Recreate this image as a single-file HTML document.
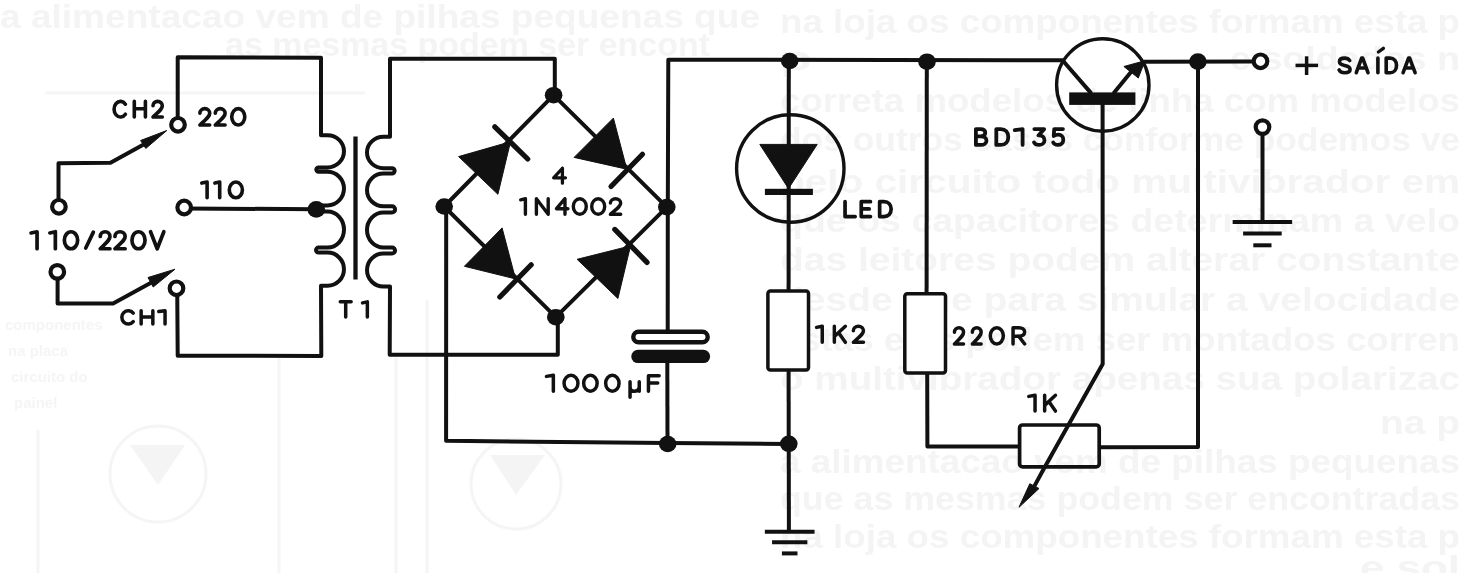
<!DOCTYPE html>
<html><head><meta charset="utf-8"><style>
html,body{margin:0;padding:0;background:#fff;overflow:hidden;}
svg{display:block;filter:blur(0.4px);}
</style></head><body>
<svg width="1460" height="573" viewBox="0 0 1460 573">
<rect width="1460" height="573" fill="#fff"/>
<g fill="#f4f4f4" font-family="Liberation Sans, sans-serif" font-weight="bold" font-size="34">
<text x="0" y="28" textLength="760" lengthAdjust="spacingAndGlyphs">a alimentacao vem de pilhas pequenas que</text>
<text x="225" y="56" textLength="485" lengthAdjust="spacingAndGlyphs">as mesmas podem ser encont</text>
<text x="780" y="33" textLength="680" lengthAdjust="spacingAndGlyphs">na loja os componentes formam esta p</text>
<text x="1230" y="70" textLength="230" lengthAdjust="spacingAndGlyphs">e soldados n</text>
<text x="780" y="70" textLength="32" lengthAdjust="spacingAndGlyphs">p</text>
<text x="780" y="112" textLength="680" lengthAdjust="spacingAndGlyphs">correta modelos de linha com modelos</text>
<text x="780" y="151" textLength="680" lengthAdjust="spacingAndGlyphs">dos outros casos conforme podemos ve</text>
<text x="780" y="193" textLength="680" lengthAdjust="spacingAndGlyphs">pelo circuito todo multivibrador em</text>
<text x="780" y="232" textLength="680" lengthAdjust="spacingAndGlyphs">que os capacitores determinam a velo</text>
<text x="780" y="271" textLength="680" lengthAdjust="spacingAndGlyphs">das leitores podem alterar constante</text>
<text x="780" y="311" textLength="680" lengthAdjust="spacingAndGlyphs">desde que para simular a velocidade</text>
<text x="780" y="351" textLength="680" lengthAdjust="spacingAndGlyphs">estas eles podem ser montados corren</text>
<text x="780" y="390" textLength="680" lengthAdjust="spacingAndGlyphs">o multivibrador apenas sua polarizac</text>
<text x="1380" y="434" textLength="80" lengthAdjust="spacingAndGlyphs">na p</text>
<text x="780" y="473" textLength="680" lengthAdjust="spacingAndGlyphs">a alimentacao vem de pilhas pequenas</text>
<text x="780" y="510" textLength="680" lengthAdjust="spacingAndGlyphs">que as mesmas podem ser encontradas</text>
<text x="780" y="548" textLength="680" lengthAdjust="spacingAndGlyphs">na loja os componentes formam esta p</text>
<text x="1360" y="579" textLength="100" lengthAdjust="spacingAndGlyphs">e sol</text>
</g>
<g fill="none" stroke="#f5f5f5" stroke-width="3">
<circle cx="158" cy="474" r="48"/><circle cx="516" cy="484" r="45"/>
<path d="M38,430 V573 M279,357 V573 M396,357 V573 M427,300 V573 M45,93 H365"/>
</g>
<g fill="#f4f4f4">
<polygon points="130,445 185,445 158,485"/><polygon points="490,455 545,455 516,495"/>
</g>
<g fill="#f5f5f5" font-family="Liberation Sans, sans-serif" font-weight="bold" font-size="15">
<text x="5" y="330">componentes</text>
<text x="8" y="356">na placa</text>
<text x="11" y="382">circuito do</text>
<text x="14" y="408">painel</text>
</g>
<g fill="none" stroke="#111111" stroke-width="4.0" stroke-linejoin="round" stroke-linecap="butt">
<path d="M58.5,206 L58.5,163.2 L110.5,162.8 L150,141"/>
<polygon fill="#111111" stroke="#111111" stroke-width="1" stroke-linejoin="round" points="166.8,130.5 140.6,140.5 145.8,148.4" />
<path d="M57.6,272 L57.6,303.6 L113.1,303.6 L156,280"/>
<polygon fill="#111111" stroke="#111111" stroke-width="1" stroke-linejoin="round" points="175.0,269.2 148.0,277.5 153.2,287.0" />
<path d="M184.2,208.5 L316.3,209.2"/>
<path d="M177.7,124 L177.7,57.3 L321,57.8 L321,135.2 L327.5,135.2 A16.5,16.10 0 0 1 327.5,167.4 L318.5,167.4 A2.20,2.20 0 0 0 318.5,171.8 L327.5,171.8 A16.5,16.80 0 0 1 327.5,205.4 L318.5,205.4 A3.10,3.10 0 0 0 318.5,211.6 L327.5,211.6 A16.5,18.00 0 0 1 327.5,247.6 L318.5,247.6 A2.50,2.50 0 0 0 318.5,252.6 L327.5,252.6 A16.5,16.60 0 0 1 327.5,285.8 L321,285.8 L321.3,355.9 L177.7,355.8 L177.2,289"/>
<path d="M554.8,95 L554.8,58.8 L390,58.8 L390,136.8 L383.5,136.8 A16.5,15.70 0 0 0 383.5,168.2 L392,168.2 A2.65,2.65 0 0 1 392,173.5 L383.5,173.5 A16.5,16.40 0 0 0 383.5,206.3 L392,206.3 A3.10,3.10 0 0 1 392,212.5 L383.5,212.5 A16.5,17.45 0 0 0 383.5,247.4 L392,247.4 A3.05,3.05 0 0 1 392,253.5 L383.5,253.5 A16.5,16.55 0 0 0 383.5,286.6 L390,286.6 L389.7,354.8 L557.8,354.8 L557.8,317"/>
<line x1="355.5" y1="136.5" x2="355.5" y2="279.6" stroke-width="4.3"/>
<path d="M444.2,206.5 L553.6,95.2 L666.8,207.1 L555.8,317.2 Z"/>
<polygon fill="#111111" stroke="#111111" stroke-width="1" stroke-linejoin="round" points="458.6,156.6 497.9,194.3 510.5,141.7" />
<line x1="494.8" y1="126.8" x2="527.7" y2="159" stroke-width="5.2" stroke-linecap="round"/>
<polygon fill="#111111" stroke="#111111" stroke-width="1" stroke-linejoin="round" points="613.4,118.1 574.1,157.4 626.8,169.2" />
<line x1="642.5" y1="154.3" x2="611" y2="186.5" stroke-width="5.2" stroke-linecap="round"/>
<polygon fill="#111111" stroke="#111111" stroke-width="1" stroke-linejoin="round" points="502.1,227.9 464.4,266.3 515.5,278.9" />
<line x1="531.2" y1="264.8" x2="499.8" y2="297" stroke-width="5.2" stroke-linecap="round"/>
<polygon fill="#111111" stroke="#111111" stroke-width="1" stroke-linejoin="round" points="577.1,259.3 617.9,298.5 630.5,245.9" />
<line x1="614.8" y1="229.4" x2="647" y2="262.4" stroke-width="5.2" stroke-linecap="round"/>
<path d="M446.2,206.5 L446.1,440.8 L667.7,443 L788.9,443.9"/>
<path d="M667.7,330 L667.8,207 L668.3,59.7 L1062.5,60.3 L1091.3,93.4"/>
<path d="M667.3,362 L667.5,444"/>
<rect x="633.3" y="331.8" width="74.4" height="10.5" rx="5.25" fill="#fff" stroke-width="4.4"/>
<rect x="631.3" y="349.7" width="78.8" height="13.4" rx="6.7" fill="#111111" stroke="none"/>
<line x1="788.8" y1="61" x2="788.6" y2="291"/>
<circle cx="790.3" cy="168.5" r="53.7" fill="none" stroke-width="3.4"/>
<polygon fill="#111111" stroke="#111111" stroke-width="1" stroke-linejoin="round" points="759.8,144.4 817.2,144.4 788.5,188.6" />
<rect x="764.9" y="188.8" width="48" height="6.2" fill="#111111" stroke="none"/>
<rect x="767.9" y="291" width="40.6" height="79" rx="2.5" fill="#fff" stroke-width="3.5"/>
<path d="M788.6,370.7 L788.9,531.7"/>
<line x1="764.85" y1="531.7" x2="814.5500000000001" y2="531.7" stroke-width="4.0"/><line x1="772.0500000000001" y1="542.2" x2="807.35" y2="542.2" stroke-width="4.0"/><line x1="781.9000000000001" y1="553.4000000000001" x2="797.5" y2="553.4000000000001" stroke-width="4.0"/>
<path d="M926.8,61 L926.6,293.7"/>
<rect x="904.8" y="293.7" width="40.7" height="79.4" rx="2.5" fill="#fff" stroke-width="3.5"/>
<path d="M927.2,373 L927.4,446.6 L1019.6,446.6"/>
<rect x="1019.6" y="425" width="79.6" height="41.9" rx="3" fill="none" stroke-width="3.7"/>
<path d="M1099.2,447.2 L1198,447 L1198,61.6"/>
<circle cx="1102.8" cy="85" r="46.2" fill="none" stroke-width="3.4"/>
<rect x="1069.2" y="92.4" width="66.2" height="12.5" fill="#111111" stroke="none"/>
<path d="M1113.4,93.4 L1131,72"/>
<polygon fill="#111111" stroke="#111111" stroke-width="1" stroke-linejoin="round" points="1123.9,66.5 1138.3,78.0 1145.0,60.7" />
<path d="M1144,61.7 L1253,61.5"/>
<path d="M1102.6,104 L1102.7,364 L1043.4,469.4 L1034.4,486.1"/>
<polygon fill="#111111" stroke="#111111" stroke-width="1" stroke-linejoin="round" points="1019.0,507.3 1029.8,483.7 1039.0,488.5" />
<circle cx="1260.5" cy="61.3" r="6.8" fill="#fff" stroke-width="4.2"/>
<circle cx="1262.5" cy="127.1" r="6.8" fill="#fff" stroke-width="4.2"/>
<path d="M1262.5,134 L1262.5,222"/>
<line x1="1232.65" y1="222" x2="1292.15" y2="222" stroke-width="4.0"/><line x1="1243.1000000000001" y1="233.5" x2="1281.7" y2="233.5" stroke-width="4.0"/><line x1="1253.3000000000002" y1="245.3" x2="1271.5" y2="245.3" stroke-width="4.0"/>
<circle cx="178" cy="124.8" r="6.8" fill="#fff" stroke-width="4.2"/>
<circle cx="184.2" cy="207.5" r="6.8" fill="#fff" stroke-width="4.2"/>
<circle cx="58.9" cy="206.8" r="6.8" fill="#fff" stroke-width="4.2"/>
<circle cx="57.3" cy="271.9" r="6.8" fill="#fff" stroke-width="4.2"/>
<circle cx="176.5" cy="288.3" r="6.8" fill="#fff" stroke-width="4.2"/>
<ellipse cx="316.3" cy="209.4" rx="8.8" ry="8.3" fill="#111111" stroke="none"/>
<ellipse cx="553.6" cy="95.2" rx="8.8" ry="8.3" fill="#111111" stroke="none"/>
<ellipse cx="444.2" cy="206.5" rx="8.8" ry="8.3" fill="#111111" stroke="none"/>
<ellipse cx="666.8" cy="207.1" rx="8.8" ry="8.3" fill="#111111" stroke="none"/>
<ellipse cx="555.8" cy="317.2" rx="8.8" ry="8.3" fill="#111111" stroke="none"/>
<ellipse cx="667.7" cy="444" rx="8.8" ry="8.3" fill="#111111" stroke="none"/>
<ellipse cx="788.8" cy="443.8" rx="8.8" ry="8.3" fill="#111111" stroke="none"/>
<ellipse cx="789.7" cy="61" rx="8.8" ry="8.3" fill="#111111" stroke="none"/>
<ellipse cx="927" cy="61.7" rx="8.8" ry="8.3" fill="#111111" stroke="none"/>
<ellipse cx="1197.9" cy="61.6" rx="8.8" ry="8.3" fill="#111111" stroke="none"/>
<line x1="1295.5" y1="65.4" x2="1318.1" y2="65.4" stroke-width="3.5"/>
<line x1="1306.6" y1="56.3" x2="1306.6" y2="75" stroke-width="3.5"/>
<line x1="1378.4" y1="52" x2="1383.4" y2="48.3" stroke-width="3.3" stroke-linecap="round"/>
</g>
<g fill="none" stroke="#111111" stroke-linecap="round" stroke-linejoin="round">
<path d="M 125.40,104.21 A 6.40,7.80 0 1 0 125.40,114.19" stroke-width="3.6"/>
<path d="M 134.30,101.40 L 134.30,117.00 M 145.40,101.40 L 145.40,117.00 M 134.30,108.73 L 145.40,108.73" stroke-width="3.6"/>
<path d="M 153.00,105.77 A 4.65,4.37 0 0 1 162.30,105.77 C 162.30,108.73 160.05,110.45 153.00,117.00 L 162.30,117.00" stroke-width="3.6"/>
<path d="M 199.90,113.19 A 4.90,4.59 0 0 1 209.70,113.19 C 209.70,116.31 207.33,118.11 199.90,125.00 L 209.70,125.00" stroke-width="3.6"/>
<path d="M 215.30,113.19 A 4.90,4.59 0 0 1 225.10,113.19 C 225.10,116.31 222.73,118.11 215.30,125.00 L 225.10,125.00" stroke-width="3.6"/>
<path d="M 238.25,108.60 A 6.55,8.20 0 1 1 238.25,125.00 A 6.55,8.20 0 1 1 238.25,108.60 Z" stroke-width="3.6"/>
<path d="M 201.80,183.11 L 207.10,182.00 L 207.10,197.80" stroke-width="3.6"/>
<path d="M 214.90,183.11 L 219.70,182.00 L 219.70,197.80" stroke-width="3.6"/>
<path d="M 235.85,182.00 A 6.55,7.90 0 1 1 235.85,197.80 A 6.55,7.90 0 1 1 235.85,182.00 Z" stroke-width="3.6"/>
<path d="M 31.05,232.94 L 37.05,231.75 L 37.05,248.75" stroke-width="3.7"/>
<path d="M 49.85,232.94 L 55.35,231.75 L 55.35,248.75" stroke-width="3.7"/>
<path d="M 71.00,231.75 A 6.65,8.50 0 1 1 71.00,248.75 A 6.65,8.50 0 1 1 71.00,231.75 Z" stroke-width="3.7"/>
<path d="M 93.35,232.09 L 85.75,248.07" stroke-width="3.7"/>
<path d="M 100.25,236.51 A 4.85,4.76 0 0 1 109.95,236.51 C 109.95,239.74 107.60,241.61 100.25,248.75 L 109.95,248.75" stroke-width="3.7"/>
<path d="M 114.95,236.51 A 5.10,4.76 0 0 1 125.15,236.51 C 125.15,239.74 122.68,241.61 114.95,248.75 L 125.15,248.75" stroke-width="3.7"/>
<path d="M 138.50,231.75 A 6.55,8.50 0 1 1 138.50,248.75 A 6.55,8.50 0 1 1 138.50,231.75 Z" stroke-width="3.7"/>
<path d="M 150.55,231.75 L 157.20,248.75 L 163.85,231.75" stroke-width="3.7"/>
<path d="M 133.25,313.04 A 6.46,6.65 0 1 0 133.25,321.56" stroke-width="3.5"/>
<path d="M 141.15,310.65 L 141.15,323.95 M 152.85,310.65 L 152.85,323.95 M 141.15,316.90 L 152.85,316.90" stroke-width="3.5"/>
<path d="M 158.75,311.58 L 165.05,310.65 L 165.05,323.95" stroke-width="3.5"/>
<path d="M 340.25,301.85 L 351.15,301.85 M 345.70,301.85 L 345.70,316.95" stroke-width="3.5"/>
<path d="M 362.55,302.91 L 367.35,301.85 L 367.35,316.95" stroke-width="3.5"/>
<path d="M 562.42,168.25 L 553.65,177.79 L 565.45,177.79 M 562.42,168.25 L 562.42,183.15" stroke-width="3.3"/>
<path d="M 520.70,199.79 L 525.40,198.70 L 525.40,214.30" stroke-width="3.4"/>
<path d="M 536.40,214.30 L 536.40,198.70 L 548.20,214.30 L 548.20,198.70" stroke-width="3.4"/>
<path d="M 564.97,198.70 L 556.50,208.68 L 567.90,208.68 M 564.97,198.70 L 564.97,214.30" stroke-width="3.4"/>
<path d="M 579.80,198.70 A 6.50,7.80 0 1 1 579.80,214.30 A 6.50,7.80 0 1 1 579.80,198.70 Z" stroke-width="3.4"/>
<path d="M 598.20,198.70 A 6.50,7.80 0 1 1 598.20,214.30 A 6.50,7.80 0 1 1 598.20,198.70 Z" stroke-width="3.4"/>
<path d="M 610.40,203.07 A 5.15,4.37 0 0 1 620.70,203.07 C 620.70,206.03 618.21,207.75 610.40,214.30 L 620.70,214.30" stroke-width="3.4"/>
<path d="M 546.45,376.36 L 553.35,375.25 L 553.35,391.15" stroke-width="3.5"/>
<path d="M 571.00,375.25 A 6.95,7.95 0 1 1 571.00,391.15 A 6.95,7.95 0 1 1 571.00,375.25 Z" stroke-width="3.5"/>
<path d="M 590.40,375.25 A 6.75,7.95 0 1 1 590.40,391.15 A 6.75,7.95 0 1 1 590.40,375.25 Z" stroke-width="3.5"/>
<path d="M 612.35,375.25 A 6.70,7.95 0 1 1 612.35,391.15 A 6.70,7.95 0 1 1 612.35,375.25 Z" stroke-width="3.5"/>
<path d="M 630.05,381.65 L 630.05,397.15 M 630.05,386.92 C 630.05,390.02 631.83,391.26 634.06,391.26 C 636.88,391.26 639.25,389.71 639.25,386.61 M 639.25,381.65 L 639.25,391.26" stroke-width="3.5"/>
<path d="M 659.15,375.65 L 648.45,375.65 L 648.45,391.15 M 648.45,383.09 L 657.72,383.09" stroke-width="3.5"/>
<path d="M 845.05,201.65 L 845.05,216.55 L 855.15,216.55" stroke-width="3.7"/>
<path d="M 870.45,201.65 L 861.25,201.65 L 861.25,216.55 L 870.45,216.55 M 861.25,208.95 L 869.18,208.95" stroke-width="3.7"/>
<path d="M 879.65,201.65 L 883.92,201.65 C 888.52,201.65 891.15,204.63 891.15,209.10 C 891.15,213.57 888.52,216.55 883.92,216.55 L 879.65,216.55 Z" stroke-width="3.7"/>
<path d="M 816.55,327.38 L 822.25,326.25 L 822.25,342.35" stroke-width="3.5"/>
<path d="M 834.35,326.25 L 834.35,342.35 M 845.35,326.25 L 834.35,336.55 M 838.61,332.69 L 845.35,342.35" stroke-width="3.5"/>
<path d="M 853.35,330.76 A 5.05,4.51 0 0 1 863.45,330.76 C 863.45,333.82 861.01,335.59 853.35,342.35 L 863.45,342.35" stroke-width="3.5"/>
<path d="M 954.45,332.29 A 4.55,4.54 0 0 1 963.55,332.29 C 963.55,335.36 961.35,337.15 954.45,343.95 L 963.55,343.95" stroke-width="3.5"/>
<path d="M 972.35,332.29 A 4.40,4.54 0 0 1 981.15,332.29 C 981.15,335.36 979.02,337.15 972.35,343.95 L 981.15,343.95" stroke-width="3.5"/>
<path d="M 996.80,327.75 A 6.55,8.10 0 1 1 996.80,343.95 A 6.55,8.10 0 1 1 996.80,327.75 Z" stroke-width="3.5"/>
<path d="M 1013.05,343.95 L 1013.05,327.75 L 1019.04,327.75 C 1022.40,327.75 1024.65,329.53 1024.65,331.96 C 1024.65,334.55 1022.40,336.17 1019.04,336.17 L 1013.05,336.17 M 1018.66,336.17 L 1024.65,343.95" stroke-width="3.5"/>
<path d="M 1028.75,396.36 L 1035.05,395.25 L 1035.05,411.05" stroke-width="3.5"/>
<path d="M 1044.65,395.25 L 1044.65,411.05 M 1055.45,395.25 L 1044.65,405.36 M 1048.83,401.57 L 1055.45,411.05" stroke-width="3.5"/>
<path d="M 975.90,136.37 L 980.69,136.37 C 983.42,136.37 985.30,134.95 985.30,132.73 C 985.30,130.52 983.42,129.10 980.69,129.10 L 975.90,129.10 L 975.90,144.90 L 981.03,144.90 C 984.11,144.90 986.50,143.32 986.50,140.63 C 986.50,138.11 984.11,136.37 980.69,136.37" stroke-width="3.8"/>
<path d="M 996.30,129.10 L 1000.76,129.10 C 1005.56,129.10 1008.30,132.26 1008.30,137.00 C 1008.30,141.74 1005.56,144.90 1000.76,144.90 L 996.30,144.90 Z" stroke-width="3.8"/>
<path d="M 1014.80,130.21 L 1022.60,129.10 L 1022.60,144.90" stroke-width="3.8"/>
<path d="M 1034.34,129.10 L 1044.16,129.10 L 1038.40,135.42 C 1042.47,135.10 1044.50,137.32 1044.50,140.16 C 1044.50,143.00 1042.13,144.90 1039.08,144.90 C 1036.88,144.90 1034.85,143.95 1034.00,142.37" stroke-width="3.8"/>
<path d="M 1062.96,129.10 L 1054.21,129.10 L 1053.70,136.05 C 1055.05,135.10 1056.57,134.63 1058.25,134.63 C 1061.28,134.63 1063.30,136.68 1063.30,139.69 C 1063.30,143.00 1060.94,144.90 1057.91,144.90 C 1055.72,144.90 1053.87,143.95 1053.20,142.53" stroke-width="3.8"/>
<path d="M 1349.75,60.58 C 1348.68,58.83 1346.73,58.10 1344.60,58.10 C 1341.58,58.10 1339.45,59.41 1339.45,61.75 C 1339.45,64.38 1342.29,64.96 1344.60,65.40 C 1347.62,65.98 1350.10,66.71 1350.10,69.20 C 1350.10,71.53 1347.62,72.70 1344.60,72.70 C 1341.76,72.70 1339.81,71.68 1339.10,69.93" stroke-width="3.6"/>
<path d="M 1356.30,72.70 L 1361.62,58.10 L 1362.68,58.10 L 1368.00,72.70 M 1358.60,68.03 L 1365.70,68.03" stroke-width="3.6"/>
<path d="M 1377.90,58.10 L 1377.90,72.70" stroke-width="3.6"/>
<path d="M 1386.20,58.10 L 1390.03,58.10 C 1394.15,58.10 1396.50,61.02 1396.50,65.40 C 1396.50,69.78 1394.15,72.70 1390.03,72.70 L 1386.20,72.70 Z" stroke-width="3.6"/>
<path d="M 1403.10,72.70 L 1408.55,58.10 L 1409.65,58.10 L 1415.10,72.70 M 1405.46,68.03 L 1412.74,68.03" stroke-width="3.6"/>
</g>
</svg>
</body></html>
